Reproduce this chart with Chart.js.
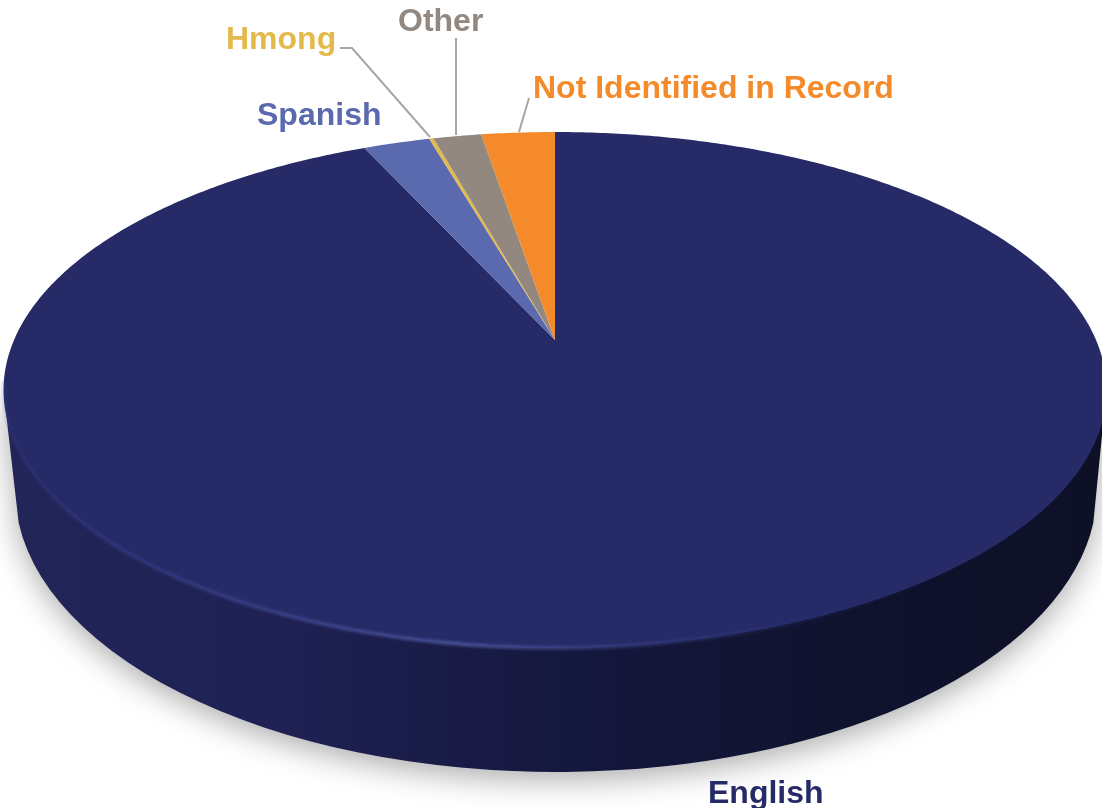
<!DOCTYPE html>
<html>
<head>
<meta charset="utf-8">
<title>Language pie</title>
<script src="https://cdn.jsdelivr.net/npm/chart.js@4"></script>
<style>
    html, body { margin: 0; padding: 0; background: #fff; overflow: hidden; }
    #wrap { position: relative; width: 1102px; height: 808px; }
</style>
</head>
<body>
<div id="wrap"><canvas id="pie"></canvas></div>
<script>
// Slices run clockwise from twelve o'clock
const languages = ['English', 'Spanish', 'Hmong', 'Other', 'Not Identified in Record'];
const shares = [93.2, 2.35, 0.15, 1.7, 2.6];
const sliceColors = ['#262b68', '#5b6aae', '#e3b94b', '#928880', '#f58a2a'];

// Perspective of the top face: apex at (555,340), rim top 132, rim bottom 648
const CX = 555, APEX_Y = 340, PERSP = -0.1938, SLOPE = 182.4, SPREAD = 541;

function project(angle) {
    const u = Math.cos(angle), v = Math.sin(angle);
    const w = 1 + PERSP * v;
    return [CX + SPREAD * u / w, (SLOPE * v + APEX_Y) / w];
}

function rimPath(ctx, from, to) {
    const steps = Math.max(2, Math.ceil(Math.abs(to - from) / 0.01));
    for (let i = 0; i <= steps; i++) {
        const p = project(from + (to - from) * i / steps);
        ctx.lineTo(p[0], p[1]);
    }
}

// Side wall and drop shadow, under the slices
function drawWall(ctx) {
    const grad = ctx.createLinearGradient(0, 0, 1102, 0);
    grad.addColorStop(0, '#222558');
    grad.addColorStop(0.25, '#1f2154');
    grad.addColorStop(0.5, '#15183f');
    grad.addColorStop(0.75, '#10132f');
    grad.addColorStop(1, '#0e1026');

    ctx.save();
    ctx.beginPath();
    ctx.moveTo(4, 395);
    ctx.ellipse(556, 490, 541, 282, 0, Math.PI - 0.117, 0.117, true);
    ctx.lineTo(1106, 395);
    ctx.closePath();
    ctx.shadowColor = 'rgba(0,0,0,0.32)';
    ctx.shadowBlur = 30;
    ctx.shadowOffsetY = 8;
    ctx.fillStyle = grad;
    ctx.fill();
    ctx.restore();
}

// Soft bevel where the top face meets the wall
function drawBevel(ctx) {
    const glow = ctx.createLinearGradient(0, 0, 1102, 0);
    glow.addColorStop(0, 'rgba(60,70,150,0.2)');
    glow.addColorStop(0.1, 'rgba(60,70,150,0.55)');
    glow.addColorStop(0.42, 'rgba(90,100,175,0.85)');
    glow.addColorStop(0.7, 'rgba(50,58,125,0.4)');
    glow.addColorStop(0.85, 'rgba(38,43,104,0)');

    ctx.save();
    ctx.filter = 'blur(1.5px)';
    ctx.lineWidth = 3;
    ctx.strokeStyle = glow;
    ctx.beginPath();
    rimPath(ctx, Math.PI * 0.95, Math.PI * 0.15);
    ctx.stroke();
    ctx.restore();
}

const piePerspective = {
    id: 'piePerspective',
    beforeDatasetsDraw(chart) {
        const ctx = chart.ctx;
        drawWall(ctx);
        // the wedges keep the angles the pie controller worked out
        chart.getDatasetMeta(0).data.forEach((arc, i) => {
            ctx.beginPath();
            ctx.moveTo(CX, APEX_Y);
            rimPath(ctx, arc.startAngle, arc.endAngle);
            ctx.closePath();
            ctx.fillStyle = sliceColors[i];
            ctx.fill();
        });
        drawBevel(ctx);
        return false;
    }
};

// Label text and leader lines
const callouts = {
    English: { x: 708, y: 803 },
    Spanish: { x: 257, y: 125 },
    Hmong: { x: 226, y: 49, leader: [[340, 48], [352, 48], [430, 137]] },
    Other: { x: 398, y: 31, leader: [[456, 38], [456, 135]] },
    'Not Identified in Record': { x: 533, y: 98, leader: [[529, 98], [519, 132]] }
};
const labelColors = ['#262b68', '#5b6aae', '#e3b94b', '#928880', '#f58a2a'];

// afterDraw, because cancelling the datasets draw also skips afterDatasetsDraw
const pieCallouts = {
    id: 'pieCallouts',
    afterDraw(chart) {
        const ctx = chart.ctx;
        ctx.save();
        ctx.font = 'bold 32px "Liberation Sans", Arial, sans-serif';
        ctx.textBaseline = 'alphabetic';
        languages.forEach((name, i) => {
            const c = callouts[name];
            if (c.leader) {
                ctx.beginPath();
                c.leader.forEach((p, j) => j ? ctx.lineTo(p[0], p[1]) : ctx.moveTo(p[0], p[1]));
                ctx.strokeStyle = '#a6a6a6';
                ctx.lineWidth = 2;
                ctx.stroke();
            }
            ctx.fillStyle = labelColors[i];
            ctx.fillText(name, c.x, c.y);
        });
        ctx.restore();
    }
};

new Chart(document.getElementById('pie').getContext('2d'), {
    type: 'pie',
    data: {
        labels: languages,
        datasets: [{ data: shares, backgroundColor: sliceColors, borderWidth: 0 }]
    },
    options: {
        responsive: true,
        maintainAspectRatio: false,
        animation: false,
        plugins: { legend: { display: false }, tooltip: { enabled: false } }
    },
    plugins: [piePerspective, pieCallouts]
});
</script>
</body>
</html>
